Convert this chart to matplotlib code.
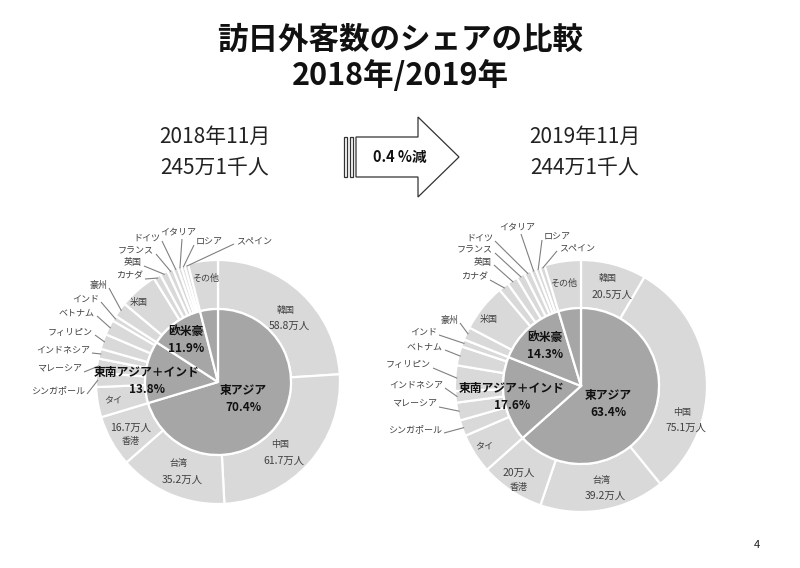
import numpy as np
import matplotlib
matplotlib.use('Agg')
import matplotlib.pyplot as plt
from matplotlib.patches import Polygon, Rectangle

plt.rcParams['font.family'] = ['Noto Sans CJK JP', 'DejaVu Sans']

# ---------------- data ----------------
countries = ['韓国', '中国', '台湾', '香港', 'タイ', 'シンガポール', 'マレーシア',
             'インドネシア', 'フィリピン', 'ベトナム', 'インド', '豪州', '米国',
             'カナダ', '英国', 'フランス', 'ドイツ', 'イタリア', 'ロシア', 'スペイン', 'その他']
groups = ['東アジア', '東南アジア＋インド', '欧米豪', 'その他']
group_of = [0, 0, 0, 0, 1, 1, 1, 1, 1, 1, 1, 2, 2, 2, 2, 2, 2, 2, 2, 2, 3]

# visitors (万人)
visitors_2018 = [58.8, 61.7, 35.2, 16.7, 9.8, 4.6, 4.6, 3.2, 4.9, 4.9, 1.8,
                 4.8, 12.5, 2.4, 2.5, 1.9, 1.6, 1.2, 1.1, 1.2, 9.7]
visitors_2019 = [20.5, 75.1, 39.2, 20.0, 12.5, 5.0, 5.6, 3.6, 8.0, 6.0, 2.3,
                 4.0, 15.0, 3.2, 3.3, 2.6, 2.2, 1.6, 1.4, 1.6, 11.4]
share_2018 = ['70.4%', '13.8%', '11.9%']
share_2019 = ['63.4%', '17.6%', '14.3%']
value_labels_2018 = {'韓国': '58.8万人', '中国': '61.7万人', '台湾': '35.2万人', '香港': '16.7万人'}
value_labels_2019 = {'韓国': '20.5万人', '中国': '75.1万人', '台湾': '39.2万人', '香港': '20万人'}
period_2018 = ['2018年11月', '245万1千人']
period_2019 = ['2019年11月', '244万1千人']
change_label = '0.4 %減'
title_lines = ['訪日外客数のシェアの比較', '2018年/2019年']
page_no = '4'

# ---------------- layout / style ----------------
W, H = 800, 568
OUTER_C = '#d9d9d9'
INNER_C = '#a6a6a6'
TXT = '#404040'
LINE_C = '#808080'

inside_names = ['韓国', '中国', '台湾', '香港', 'タイ', '米国', 'その他']
leader_names = ['シンガポール', 'マレーシア', 'インドネシア', 'フィリピン', 'ベトナム', 'インド',
                '豪州', 'カナダ', '英国', 'フランス', 'ドイツ', 'イタリア', 'ロシア', 'スペイン']

pies = [
    dict(values=visitors_2018, shares=share_2018, vlabels=value_labels_2018,
         center=(218, 382), r_out=122, r_in=73,
         inside=dict(韓国=(3.5, 93), 中国=(7, 94), 台湾=(1, 98), 香港=(-2, 102),
                     タイ=(0, 106), 米国=(-4, 112), その他=(0, 104)),
         inner_lab=[(122.6, 30), (271.6, 71), (322.7, 53)],
         leaders={'シンガポール': (85, 391, 'right'), 'マレーシア': (82, 369, 'right'),
                  'インドネシア': (90, 350, 'right'), 'フィリピン': (93, 332, 'right'),
                  'ベトナム': (95, 313, 'right'), 'インド': (99, 299, 'right'),
                  '豪州': (107, 285, 'right'), 'カナダ': (143, 276, 'right'),
                  '英国': (142, 263, 'right'), 'フランス': (154, 251, 'right'),
                  'ドイツ': (160, 238, 'right'), 'イタリア': (178, 232, 'center'),
                  'ロシア': (196, 242, 'left'), 'スペイン': (236, 241, 'left')}),
    dict(values=visitors_2019, shares=share_2019, vlabels=value_labels_2019,
         center=(581, 386), r_out=126, r_in=78,
         inside=dict(韓国=(0, 103), 中国=(23, 107), 台湾=(-1, 104), 香港=(0, 113),
                     タイ=(1, 114), 米国=(-3, 114), その他=(-1, 104)),
         inner_lab=[(122.2, 32), (261, 70), (318, 54)],
         leaders={'シンガポール': (442, 430, 'right'), 'マレーシア': (437, 404, 'right'),
                  'インドネシア': (443, 385, 'right'), 'フィリピン': (431, 365, 'right'),
                  'ベトナム': (443, 347, 'right'), 'インド': (437, 332, 'right'),
                  '豪州': (458, 320, 'right'), 'カナダ': (488, 277, 'right'),
                  '英国': (492, 262, 'right'), 'フランス': (493, 250, 'right'),
                  'ドイツ': (493, 238, 'right'), 'イタリア': (517, 227, 'center'),
                  'ロシア': (544, 237, 'left'), 'スペイン': (559, 248, 'left')}),
]

fig = plt.figure(figsize=(W / 100, H / 100), dpi=100)
fig.patch.set_facecolor('white')
ax = fig.add_axes([0, 0, 1, 1])


def Y(y):
    return H - y


def polar(center, theta, r):
    t = np.deg2rad(theta)
    return center[0] + r * np.sin(t), center[1] - r * np.cos(t)


for p in pies:
    vals = np.array(p['values'], dtype=float)
    cx, cy = p['center']
    gvals = [vals[[i for i, g in enumerate(group_of) if g == k]].sum() for k in range(len(groups))]
    ax.pie(vals, radius=p['r_out'], center=(cx, Y(cy)), startangle=90, counterclock=False,
           colors=[OUTER_C] * len(vals),
           wedgeprops=dict(width=p['r_out'] - p['r_in'], edgecolor='white', linewidth=1.6))
    ax.pie(gvals, radius=p['r_in'], center=(cx, Y(cy)), startangle=90, counterclock=False,
           colors=[INNER_C] * len(gvals),
           wedgeprops=dict(edgecolor='white', linewidth=1.6))

    cum = np.cumsum(vals) / vals.sum() * 360
    mids = cum - vals / vals.sum() * 360 / 2
    mid_of = dict(zip(countries, mids))

    # labels inside outer ring
    for name in inside_names:
        dth, r = p['inside'][name]
        x, y = polar((cx, cy), mid_of[name] + dth, r)
        if name in p['vlabels']:
            if name == '香港':
                ax.text(x, Y(y - 7), p['vlabels'][name], ha='center', va='center', fontsize=7.5, color=TXT)
                ax.text(x, Y(y + 7), name, ha='center', va='center', fontsize=6.5, color=TXT)
            else:
                ax.text(x, Y(y - 8), name, ha='center', va='center', fontsize=6.5, color=TXT)
                ax.text(x + 4, Y(y + 8), p['vlabels'][name], ha='center', va='center', fontsize=7.5, color=TXT)
        else:
            ax.text(x, Y(y), name, ha='center', va='center', fontsize=6.5, color=TXT)

    # leader labels
    for name in leader_names:
        tx, ty, ha = p['leaders'][name]
        ax.text(tx, Y(ty), name, ha=ha, va='center', fontsize=6.5, color=TXT)
        if ha == 'right':
            sx, sy = tx + 2, ty + 3
        elif ha == 'left':
            sx, sy = tx - 2, ty + 3
        else:
            sx, sy = tx + 4, ty + 7
        ex, ey = polar((cx, cy), mid_of[name], p['r_out'] - 2)
        ax.plot([sx, ex], [Y(sy), Y(ey)], color=LINE_C, lw=0.8, solid_capstyle='butt')

    # inner labels
    for k in range(3):
        th, r = p['inner_lab'][k]
        x, y = polar((cx, cy), th, r)
        ax.text(x, Y(y - 8), groups[k], ha='center', va='center', fontsize=8.5,
                fontweight='bold', color='#111111')
        ax.text(x, Y(y + 9), p['shares'][k], ha='center', va='center', fontsize=8.5,
                fontweight='bold', color='#111111')

# title
ax.text(400, Y(40), title_lines[0], ha='center', va='center', fontsize=22,
        fontweight='bold', color='#111111')
ax.text(400, Y(76), title_lines[1], ha='center', va='center', fontsize=22,
        fontweight='bold', color='#111111')

# period texts
for (xc, lines) in [(215, period_2018), (585, period_2019)]:
    ax.text(xc, Y(137), lines[0], ha='center', va='center', fontsize=15, color='#222222')
    ax.text(xc, Y(168), lines[1], ha='center', va='center', fontsize=15, color='#222222')

# arrow
arrow_pts = [(356, 137), (418, 137), (418, 117), (459, 157), (418, 197), (418, 177), (356, 177)]
ax.add_patch(Polygon([(x, Y(y)) for x, y in arrow_pts], closed=True, facecolor='white',
                     edgecolor='#333333', lw=0.9, zorder=3))
for x0, x1 in [(344, 347), (349.5, 353)]:
    ax.add_patch(Rectangle((x0, Y(177)), x1 - x0, 40, facecolor='white', edgecolor='#333333',
                           lw=0.9, zorder=3))
ax.text(400, Y(157), change_label, ha='center', va='center', fontsize=10.5,
        fontweight='bold', color='#111111', zorder=4)

ax.text(757, Y(545), page_no, ha='center', va='center', fontsize=8, color='#222222')

ax.set_xlim(0, W)
ax.set_ylim(0, H)
ax.set_aspect('auto')
ax.axis('off')
fig.savefig('out.png', dpi=100, facecolor='white')
